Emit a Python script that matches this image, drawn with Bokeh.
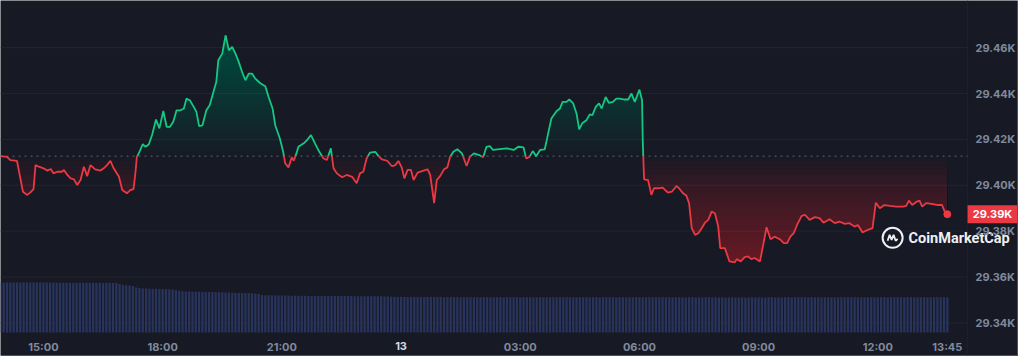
import numpy as np
from bokeh.plotting import figure
from bokeh.models import Range1d, FixedTicker
from bokeh.core.properties import value
from bokeh.embed import file_html
from bokeh.resources import INLINE

# ---------------- data ----------------
# time in minutes since 00:00 on the 12th (1440 = 00:00 on the 13th)
price_time = [
    835, 845, 850, 860, 869, 875, 880, 885, 888, 893,
    900, 906, 911, 915, 921, 928, 931, 936, 941, 946,
    951, 956, 961, 966, 971, 978, 986, 991, 996, 1001,
    1006, 1014, 1019, 1026, 1031, 1036, 1039, 1041, 1044, 1050,
    1054, 1059, 1064, 1070, 1075, 1081, 1086, 1091, 1096, 1101,
    1107, 1112, 1116, 1121, 1127, 1131, 1135, 1140, 1146, 1151,
    1156, 1161, 1164, 1170, 1175, 1180, 1185, 1190, 1195, 1200,
    1205, 1210, 1215, 1220, 1227, 1235, 1240, 1246, 1250, 1257,
    1262, 1265, 1270, 1275, 1278, 1282, 1285, 1293, 1298, 1304,
    1310, 1315, 1323, 1328, 1334, 1338, 1343, 1351, 1358, 1366,
    1373, 1378, 1383, 1388, 1393, 1401, 1406, 1411, 1419, 1426,
    1431, 1436, 1441, 1445, 1450, 1455, 1459, 1465, 1474, 1480,
    1484, 1490, 1494, 1499, 1505, 1510, 1514, 1519, 1525, 1532,
    1539, 1544, 1550, 1558, 1564, 1569, 1574, 1579, 1589, 1600,
    1610, 1617, 1625, 1629, 1634, 1639, 1644, 1650, 1657, 1660,
    1667, 1675, 1680, 1684, 1690, 1694, 1700, 1705, 1709, 1714,
    1720, 1725, 1729, 1734, 1739, 1743, 1749, 1754, 1760, 1765,
    1770, 1778, 1783, 1788, 1793, 1800, 1804, 1805, 1807, 1813,
    1818, 1822, 1828, 1835, 1843, 1849, 1856, 1861, 1866, 1871,
    1875, 1879, 1884, 1889, 1894, 1899, 1904, 1909, 1914, 1919,
    1922, 1929, 1936, 1944, 1947, 1953, 1959, 1964, 1969, 1974,
    1982, 1987, 1992, 1998, 2004, 2012, 2018, 2023, 2028, 2033,
    2038, 2045, 2050, 2057, 2065, 2072, 2078, 2087, 2095, 2102,
    2110, 2117, 2125, 2130, 2137, 2145, 2152, 2157, 2163, 2170,
    2178, 2188, 2198, 2203, 2207, 2212, 2219, 2223, 2227, 2233,
    2241, 2251, 2257, 2261, 2265,
]
price = [
    29412.7, 29412.4, 29411.0, 29410.6, 29397.2, 29395.8, 29396.8, 29398.3, 29408.8, 29408.1,
    29407.4, 29406.4, 29407.1, 29405.2, 29405.9, 29405.9, 29406.7, 29404.5, 29403.0, 29402.6,
    29400.1, 29402.3, 29408.1, 29404.0, 29408.8, 29406.9, 29406.4, 29407.4, 29408.8, 29410.7,
    29407.4, 29403.7, 29397.9, 29396.5, 29397.9, 29398.3, 29405.8, 29412.4, 29413.9, 29418.0,
    29416.8, 29417.8, 29421.9, 29428.7, 29424.8, 29432.4, 29425.5, 29425.5, 29427.7, 29432.7,
    29432.7, 29433.5, 29437.8, 29437.1, 29434.2, 29432.0, 29425.8, 29426.1, 29432.7, 29434.9,
    29440.0, 29445.1, 29454.5, 29457.4, 29465.4, 29458.8, 29460.3, 29457.4, 29453.7, 29449.4,
    29445.8, 29448.7, 29448.7, 29446.5, 29444.6, 29443.2, 29438.5, 29433.5, 29426.2, 29420.4,
    29414.6, 29409.6, 29407.8, 29412.2, 29410.7, 29413.9, 29416.8, 29418.3, 29419.7, 29421.9,
    29418.3, 29415.4, 29411.7, 29411.0, 29416.1, 29407.4, 29405.2, 29403.5, 29404.5, 29403.7,
    29400.9, 29405.2, 29405.9, 29411.7, 29414.2, 29414.6, 29412.7, 29411.3, 29410.7, 29408.4,
    29408.7, 29410.6, 29407.8, 29403.0, 29406.7, 29406.7, 29402.3, 29405.5, 29406.4, 29407.0,
    29404.5, 29392.2, 29402.3, 29404.0, 29407.0, 29407.8, 29412.4, 29414.6, 29415.7, 29413.9,
    29408.4, 29412.4, 29413.9, 29413.2, 29412.2, 29416.8, 29417.1, 29415.4, 29415.8, 29416.1,
    29415.4, 29416.8, 29416.5, 29411.7, 29412.4, 29414.9, 29412.7, 29415.4, 29415.7, 29419.7,
    29429.1, 29432.4, 29433.5, 29436.4, 29436.4, 29437.4, 29435.7, 29431.3, 29424.4, 29427.2,
    29428.4, 29430.9, 29430.6, 29434.2, 29435.7, 29433.5, 29438.5, 29435.9, 29436.4, 29437.8,
    29437.8, 29437.4, 29437.4, 29440.0, 29436.4, 29441.7, 29437.1, 29419.7, 29402.6, 29402.3,
    29395.8, 29398.7, 29398.7, 29399.0, 29396.8, 29397.2, 29399.7, 29398.3, 29396.5, 29395.4,
    29392.2, 29381.3, 29378.4, 29379.1, 29381.3, 29383.7, 29384.9, 29388.5, 29387.8, 29382.0,
    29372.6, 29372.6, 29366.8, 29366.4, 29367.8, 29366.8, 29368.7, 29369.0, 29367.8, 29368.3,
    29366.8, 29374.1, 29381.7, 29376.5, 29377.6, 29376.5, 29374.8, 29374.8, 29377.6, 29379.1,
    29382.7, 29386.7, 29387.1, 29384.9, 29386.1, 29385.7, 29383.7, 29385.2, 29383.5, 29384.2,
    29383.2, 29383.5, 29382.0, 29382.7, 29379.4, 29380.6, 29381.3, 29392.4, 29390.0, 29391.4,
    29391.0, 29390.7, 29390.7, 29391.0, 29393.3, 29391.4, 29392.9, 29393.3, 29390.7, 29392.2,
    29391.9, 29391.4, 29391.4, 29388.5, 29387.4,
]

# 24h volume (billion USD), one bar every 5 minutes starting at 13:55
volume_start = 835
volume_step = 5
volume = [
    15.12, 15.10, 15.11, 15.09, 15.10, 15.08, 15.09, 15.07, 15.08, 15.06, 15.07, 15.05,
    15.06, 15.04, 15.05, 15.03, 15.04, 15.02, 15.03, 15.01, 15.02, 15.00, 15.01, 14.99,
    15.00, 14.98, 14.99, 14.97, 14.98, 14.96, 14.97, 14.95, 14.96, 14.94, 14.95, 14.93,
    14.60, 14.40, 14.25, 14.15, 14.05,
    13.55, 13.40, 13.30, 13.25, 13.22, 13.20, 13.18, 13.15, 13.12, 13.10, 13.05, 12.95, 12.85,
    12.60, 12.45, 12.38, 12.34, 12.31, 12.29, 12.27, 12.25, 12.23, 12.21, 12.19, 12.17,
    12.15, 12.12, 12.10, 12.05, 12.00,
    11.95, 11.93, 11.91, 11.90, 11.88, 11.86, 11.80, 11.60,
    11.30, 11.25, 11.23, 11.21, 11.20, 11.19, 11.17, 11.15, 11.13, 11.11, 11.09,
    11.06, 11.05, 11.05, 11.04, 11.04, 11.03, 11.03, 11.02, 11.02, 11.01, 11.01, 11.00,
    11.00, 10.99, 10.99, 10.98, 10.98, 10.97, 10.97, 10.96, 10.96, 10.95, 10.94, 10.93,
    10.92, 10.90, 10.88, 10.85, 10.80, 10.75,
    10.72, 10.71, 10.71, 10.70, 10.70, 10.69, 10.70, 10.69, 10.69, 10.68, 10.68, 10.69,
    10.68, 10.68, 10.67, 10.67, 10.68, 10.67, 10.67, 10.66, 10.66, 10.67, 10.66, 10.66,
    10.65, 10.66, 10.65, 10.65, 10.66, 10.65, 10.65, 10.64, 10.65, 10.64, 10.64, 10.65,
    10.64, 10.64, 10.63, 10.64, 10.63, 10.64, 10.63, 10.63, 10.64, 10.63, 10.63, 10.62,
    10.63, 10.62, 10.63, 10.62, 10.62, 10.63, 10.62, 10.62, 10.61, 10.62, 10.62, 10.61,
    10.62, 10.61, 10.61, 10.62, 10.61, 10.61, 10.62, 10.61, 10.61, 10.60, 10.61, 10.61,
    10.60, 10.61, 10.60, 10.61, 10.60, 10.60, 10.61, 10.60, 10.60, 10.61, 10.60, 10.60,
    10.61, 10.60, 10.60, 10.59, 10.60, 10.60, 10.59, 10.60, 10.59, 10.60, 10.60, 10.59,
    10.60, 10.59, 10.60, 10.59, 10.59, 10.60, 10.59, 10.59, 10.60, 10.59, 10.59, 10.60,
    10.59, 10.60, 10.59, 10.59, 10.60, 10.60, 10.59, 10.60, 10.59, 10.60, 10.60, 10.59,
    10.60, 10.60, 10.61, 10.60, 10.60, 10.61, 10.60, 10.61, 10.60, 10.60, 10.61, 10.60,
    10.61, 10.60, 10.61, 10.61, 10.60, 10.61, 10.61, 10.60, 10.61, 10.61, 10.60, 10.61,
    10.61, 10.61, 10.60, 10.61, 10.61, 10.62, 10.61, 10.61, 10.62, 10.61, 10.61, 10.62,
    10.62, 10.61, 10.62, 10.62, 10.61, 10.62, 10.62, 10.62, 10.61, 10.62, 10.62,
]

xtick_values = [900, 1080, 1260, 1440, 1620, 1800, 1980, 2160, 2265]
xtick_labels = ["15:00", "18:00", "21:00", "13", "03:00", "06:00", "09:00", "12:00", "13:45"]
ytick_values = [29340, 29360, 29380, 29400, 29420, 29440, 29460]
ytick_labels = ["29.34K", "29.36K", "29.38K", "29.40K", "29.42K", "29.44K", "29.46K"]
last_price_label = "29.39K"
watermark = "CoinMarketCap"

# ---------------- style / layout ----------------
BG = "#171924"
GRID = "#222531"
GREEN = "#16c784"
RED = "#ea3943"
TICK_TXT = "#808a9d"
VOL_COLOR = "#28345c"
FONT = "Inter"

W, H = 1018, 356          # whole canvas = plotting frame
PANE_W, PANE_H = 968, 333  # price pane (right of it: price scale, below: time scale)
MIN_PER_PX = 1.5087
PRICE_PER_PX = 1 / 2.3
T0 = 835.1
V_TOP = 29480.57


def tx(px):
    return T0 + px * MIN_PER_PX


def vy(py):
    return V_TOP - py * PRICE_PER_PX


t = np.array(price_time, dtype=float)
v = np.array(price, dtype=float)
base = v[0]

p = figure(width=W, height=H, output_backend="svg", toolbar_location=None,
           x_range=Range1d(tx(0), tx(W)), y_range=Range1d(vy(H), V_TOP),
           y_axis_location="right",
           min_border_left=0, min_border_top=0, min_border_right=0, min_border_bottom=0)
p.background_fill_color = BG
p.border_fill_color = BG
p.outline_line_color = None
vol_per_px = 100 / PANE_H
p.extra_y_ranges = {"vol": Range1d(-(H - PANE_H) * vol_per_px, 100)}
p.xgrid.grid_line_color = None
p.ygrid.grid_line_color = None

# axes drawn inside the canvas (price scale on the right, time scale at the bottom)
ya = p.yaxis[0]
ya.ticker = FixedTicker(ticks=ytick_values)
ya.major_label_overrides = {tv: lab for tv, lab in zip(ytick_values, ytick_labels)}
ya.major_tick_out = 0
ya.major_tick_in = 0
ya.minor_tick_out = 0
ya.minor_tick_in = 0
ya.axis_line_color = None
ya.major_label_standoff = -(W - PANE_W) + 8
ya.major_label_text_color = TICK_TXT
ya.major_label_text_font = FONT
ya.major_label_text_font_size = "11px"
ya.major_label_text_font_style = "bold"

xa = p.xaxis[0]
xa.ticker = FixedTicker(ticks=xtick_values)
overrides = {tv: lab for tv, lab in zip(xtick_values, xtick_labels)}
overrides[1440] = ""
xa.major_label_overrides = overrides
xa.major_tick_out = 0
xa.major_tick_in = 0
xa.minor_tick_out = 0
xa.minor_tick_in = 0
xa.axis_line_color = None
xa.major_label_standoff = -(H - PANE_H) + 7
xa.major_label_text_color = TICK_TXT
xa.major_label_text_font = FONT
xa.major_label_text_font_size = "11px"
xa.major_label_text_font_style = "bold"

# horizontal grid lines across the price pane only
p.segment(x0=tx(0), x1=tx(PANE_W), y0=ytick_values, y1=ytick_values,
          line_color=GRID, line_width=1)
# separator of the price scale
p.segment(x0=tx(PANE_W), x1=tx(PANE_W), y0=vy(H), y1=V_TOP,
          line_color="#1e212c", line_width=1)

# volume bars
vol_t = [volume_start + volume_step * i for i in range(len(volume))]
p.vbar(x=vol_t, top=volume, bottom=0, width=volume_step * 0.68,
       fill_color=VOL_COLOR, line_color=None, y_range_name="vol")

# gradient-like fills (stacked translucent layers)
td = np.arange(t[0], t[-1] + 0.01, 0.5)
vd = np.interp(td, t, v)
step = 2.0
lvl = base
while lvl < vd.max():
    p.varea(x=td, y1=np.full_like(vd, lvl), y2=np.maximum(vd, lvl),
            fill_color=GREEN, fill_alpha=0.016)
    lvl += step
lvl = base
while lvl > vd.min():
    p.varea(x=td, y1=np.minimum(vd, lvl), y2=np.full_like(vd, lvl),
            fill_color=RED, fill_alpha=0.02)
    lvl -= step

# dotted baseline (opening price)
p.segment(x0=tx(0), x1=tx(PANE_W), y0=base, y1=base,
          line_color="#5d6272", line_dash="2 4", line_width=1)

# price line split at the baseline
tt, vv = [t[0]], [v[0]]
for i in range(1, len(t)):
    a, b = v[i - 1] - base, v[i] - base
    if a * b < 0:
        f = a / (a - b)
        tt.append(t[i - 1] + f * (t[i] - t[i - 1]))
        vv.append(base)
    tt.append(t[i])
    vv.append(v[i])
tt = np.array(tt)
vv = np.array(vv)
up = np.where(vv >= base, vv, np.nan)
dn = np.where(vv <= base, vv, np.nan)
p.line(tt, up, line_color=GREEN, line_width=1.8)
p.line(tt, dn, line_color=RED, line_width=1.8)
p.scatter([t[-1]], [v[-1]], size=7, fill_color=RED, line_color=RED)

# bold day label on the time scale
p.text(x=[xtick_values[3]], y=[vy(346)], text=[xtick_labels[3]],
       text_align="center", text_baseline="middle", text_color="#d5d9e2",
       text_font=value(FONT), text_font_size=value("11px"), text_font_style="bold")

# current price tag on the price scale
p.quad(left=tx(PANE_W), right=tx(W), bottom=v[-1] - 9 * PRICE_PER_PX,
       top=v[-1] + 9 * PRICE_PER_PX, fill_color=RED, line_color=None)
p.text(x=[tx((PANE_W + W) / 2)], y=[v[-1]], text=[last_price_label],
       text_align="center", text_baseline="middle", text_color="white",
       text_font=value(FONT), text_font_size=value("11px"), text_font_style="bold")

# watermark
LOGO_X, LOGO_Y = 893, 238
p.scatter([tx(LOGO_X)], [vy(LOGO_Y)], size=20, fill_color=None,
          line_color="#eef0f4", line_width=2)
wave_dx = [-5, -3, -1, 1, 3, 5]
wave_dy = [3, -3, 2, -3, 3, 1]
p.line([tx(LOGO_X + d) for d in wave_dx], [vy(LOGO_Y + d) for d in wave_dy],
       line_color="#eef0f4", line_width=1.8)
p.text(x=[tx(909)], y=[vy(239)], text=[watermark],
       text_align="left", text_baseline="middle", text_color="#eef0f4",
       text_font=value("Roboto"), text_font_size=value("14.5px"), text_font_style="bold")

open("out.html", "w").write(file_html(p, INLINE))
